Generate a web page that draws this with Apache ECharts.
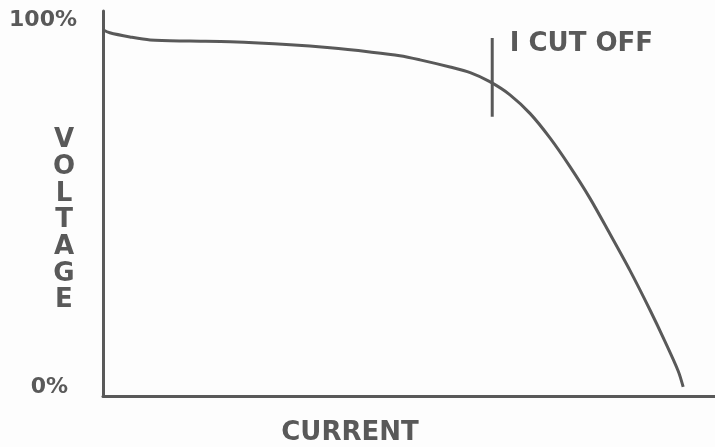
<!DOCTYPE html>
<html>
<head>
<meta charset="utf-8">
<script src="https://cdn.jsdelivr.net/npm/echarts@6/dist/echarts.min.js"></script>
<style>
  html, body { margin: 0; padding: 0; background: #fdfdfd; }
  #chart { width: 715px; height: 447px; }
</style>
</head>
<body>
<div id="chart"></div>
<script>
// Supply regulation curve: output voltage (% of no-load) against load current (% of span)
const currentPct = [0, 1.1, 4.4, 7.7, 14.2, 20.8, 30.6, 37.1, 43.6, 48.5, 51.8, 56.7, 60.0, 63.2, 66.5, 69.8, 73.0, 76.3, 79.6, 82.8, 86.1, 89.4, 91.8, 94.0, 94.8];
const voltagePct = [97.4, 96.6, 95.5, 94.7, 94.4, 94.2, 93.4, 92.6, 91.5, 90.5, 89.4, 87.5, 86.0, 83.6, 80.1, 75.1, 68.7, 61.0, 52.5, 43.2, 33.4, 22.8, 14.6, 6.6, 2.4];

// Current-limit marker
const cutoffCurrent = [63.6, 63.6];
const cutoffVoltage = [95.2, 74.3];
const cutoffLabel = 'I CUT OFF';

// Axis texts
const yTickValues = [0, 100];
const yTickLabels = { 0: '0%', 100: '100%' };
const xAxisTitle = 'CURRENT';
const yAxisTitle = 'VOLTAGE';

const ink = '#595959';
const font = 'DejaVu Sans';

const chart = echarts.init(document.getElementById('chart'), null, { renderer: 'canvas' });

// Stacked letters for the vertical axis title, preceded by a spacer line
const stackedTitle = '{gap| }\n' + yAxisTitle.split('').map(ch => '{v|' + ch + '}').join('\n');

chart.setOption({
  backgroundColor: '#fdfdfd',
  animation: false,
  grid: { left: 103, right: 0, top: 11, bottom: 51, containLabel: false, outerBoundsMode: 'none' },
  xAxis: {
    type: 'value',
    min: 0,
    max: 100,
    name: '{c|' + xAxisTitle + '}',
    nameLocation: 'middle',
    nameMoveOverlap: false,
    nameGap: 24,
    nameTextStyle: {
      rich: {
        c: { fontFamily: font, fontWeight: 'bold', fontSize: 26, color: ink, padding: [0, 118, 0, 0] }
      }
    },
    axisLine: { show: true, lineStyle: { color: ink, width: 3 } },
    axisTick: { show: false },
    axisLabel: { show: false },
    splitLine: { show: false }
  },
  yAxis: {
    type: 'value',
    min: 0,
    max: 102.4,
    name: stackedTitle,
    nameLocation: 'middle',
    nameMoveOverlap: false,
    nameRotate: 0,
    nameGap: 39,
    nameTextStyle: {
      align: 'center',
      verticalAlign: 'middle',
      rich: {
        gap: { fontSize: 10, lineHeight: 34 },
        v: { fontFamily: font, fontWeight: 'bold', fontSize: 26, lineHeight: 26.7, color: ink, align: 'center' }
      }
    },
    axisLine: { show: true, lineStyle: { color: ink, width: 3 } },
    axisTick: { show: false },
    splitLine: { show: false },
    axisLabel: {
      show: true,
      customValues: yTickValues,
      margin: 26,
      formatter: v => (v === 0 ? '{lo|' : '{hi|') + yTickLabels[v] + '}',
      rich: {
        hi: { fontFamily: font, fontWeight: 'bold', fontSize: 22, color: ink, align: 'right' },
        lo: { fontFamily: font, fontWeight: 'bold', fontSize: 22, color: ink, align: 'right', padding: [0, 9, 18, 0] }
      }
    }
  },
  series: [
    {
      type: 'line',
      data: currentPct.map((c, i) => [c, voltagePct[i]]),
      smooth: 0.3,
      symbol: 'none',
      lineStyle: { color: ink, width: 3 }
    },
    {
      type: 'line',
      data: cutoffCurrent.map((c, i) => [c, cutoffVoltage[i]]),
      symbol: 'none',
      lineStyle: { color: ink, width: 3 }
    },
    {
      type: 'scatter',
      data: [[cutoffCurrent[0], cutoffVoltage[0]]],
      symbolSize: 1,
      itemStyle: { color: 'rgba(0,0,0,0)', opacity: 1 },
      label: {
        show: true,
        formatter: cutoffLabel,
        position: 'right',
        distance: 0,
        offset: [17, 6],
        fontFamily: font,
        fontWeight: 'bold',
        fontSize: 26,
        color: ink
      }
    }
  ]
});
</script>
</body>
</html>
